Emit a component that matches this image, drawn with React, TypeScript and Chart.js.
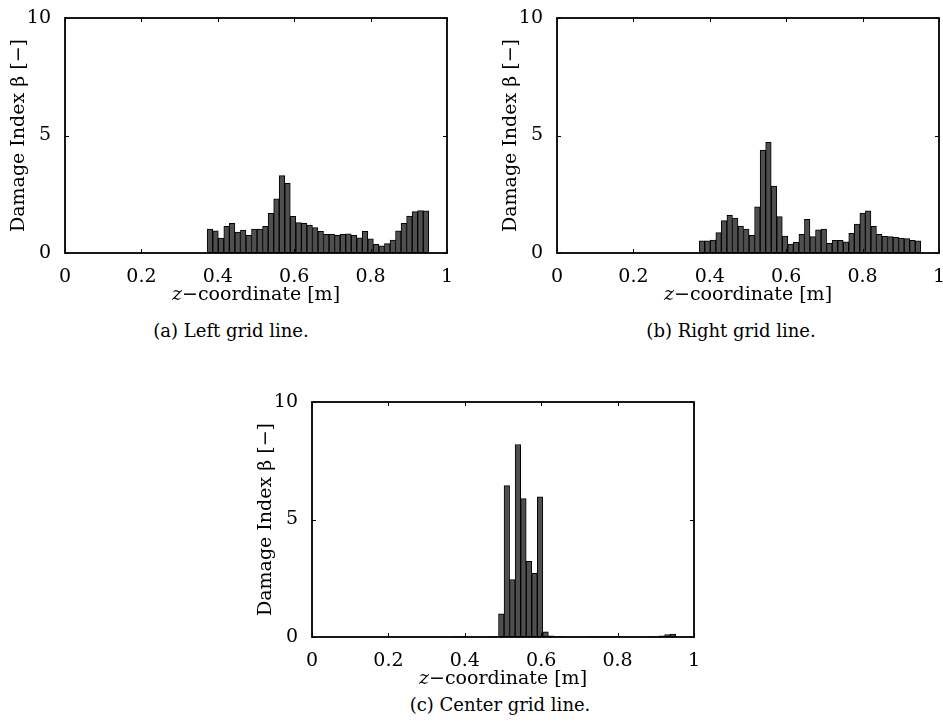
import React, { useEffect, useRef } from "react";
import { Chart, registerables } from "chart.js";

Chart.register(...registerables);

// z-coordinate of each bar centre [m]
const zCenters = [
  0.3795, 0.394, 0.4085, 0.423, 0.4375, 0.452, 0.4665, 0.481, 0.4955, 0.51,
  0.5245, 0.539, 0.5535, 0.568, 0.5825, 0.597, 0.6115, 0.626, 0.6405, 0.655,
  0.6695, 0.684, 0.6985, 0.713, 0.7275, 0.742, 0.7565, 0.771, 0.7855, 0.8,
  0.8145, 0.829, 0.8435, 0.858, 0.8725, 0.887, 0.9015, 0.916, 0.9305, 0.945,
];

// Damage index beta – left grid line
const betaLeft = [
  1.02, 0.94, 0.64, 1.13, 1.26, 0.89, 0.98, 0.75, 1.02, 1.02,
  1.13, 1.69, 2.31, 3.29, 2.96, 1.56, 1.29, 1.26, 1.19, 1.08,
  0.92, 0.79, 0.79, 0.75, 0.79, 0.82, 0.75, 0.65, 0.92, 0.6,
  0.37, 0.31, 0.4, 0.55, 0.94, 1.26, 1.57, 1.76, 1.8, 1.79,
];

// Damage index beta – right grid line
const betaRight = [
  0.52, 0.52, 0.55, 0.87, 1.38, 1.6, 1.49, 1.15, 1.02, 0.75,
  1.97, 4.38, 4.71, 2.85, 1.55, 0.72, 0.38, 0.45, 0.79, 1.43,
  0.7, 0.99, 1.02, 0.41, 0.54, 0.54, 0.48, 0.84, 1.23, 1.7,
  1.79, 1.13, 0.79, 0.71, 0.7, 0.67, 0.64, 0.61, 0.54, 0.52,
];

// Damage index beta – center grid line
const betaCenter = [
  0.02, 0.02, 0, 0, 0, 0, 0.02, 0.02, 0.99, 6.44,
  2.44, 8.19, 5.89, 3.22, 2.71, 5.96, 0.22, 0.05, 0.02, 0.02,
  0, 0, 0, 0, 0.02, 0.02, 0.02, 0.02, 0.02, 0.02,
  0, 0, 0, 0, 0, 0.02, 0.02, 0.05, 0.1, 0.12,
];

const xTicks = [0, 0.2, 0.4, 0.6, 0.8, 1];
const yTicks = [0, 5, 10];
const captions = ["(a)  Left grid line.", "(b)  Right grid line.", "(c)  Center grid line."];
const xTitleVar = "z";
const xTitleRest = "\u2212coordinate [m]";
const yTitle = "Damage Index \u03b2 [\u2212]";

const FONT = "'DejaVu Serif', serif";
const FS = 19;

const fmt = (v: number) => String(Number(Number(v).toFixed(1)));

const framePlugin = {
  id: "frame",
  afterDatasetsDraw(chart: any) {
    const { ctx, chartArea: a, scales } = chart;
    ctx.save();
    ctx.strokeStyle = "#000";
    ctx.lineWidth = 1;
    const tl = 4;
    ctx.beginPath();
    xTicks.forEach((v) => {
      const px = Math.round(scales.x.getPixelForValue(v)) + 0.5;
      ctx.moveTo(px, a.bottom);
      ctx.lineTo(px, a.bottom - tl);
      ctx.moveTo(px, a.top);
      ctx.lineTo(px, a.top + tl);
    });
    yTicks.forEach((v) => {
      const py = Math.round(scales.y.getPixelForValue(v)) + 0.5;
      ctx.moveTo(a.left, py);
      ctx.lineTo(a.left + tl, py);
      ctx.moveTo(a.right, py);
      ctx.lineTo(a.right - tl, py);
    });
    ctx.stroke();
    ctx.lineWidth = 1.8;
    ctx.strokeRect(a.left, a.top, a.right - a.left, a.bottom - a.top);

    // x-axis title with italic variable name
    const italic = `italic ${FS}px ${FONT}`;
    const normal = `${FS}px ${FONT}`;
    ctx.font = italic;
    const w1 = ctx.measureText(xTitleVar).width;
    ctx.font = normal;
    const w2 = ctx.measureText(xTitleRest).width;
    const cx = (a.left + a.right) / 2;
    const x0 = cx - (w1 + w2) / 2;
    const ty = a.bottom + 42;
    ctx.fillStyle = "#000";
    ctx.textBaseline = "middle";
    ctx.textAlign = "left";
    ctx.font = italic;
    ctx.fillText(xTitleVar, x0, ty);
    ctx.font = normal;
    ctx.fillText(xTitleRest, x0 + w1, ty);
    ctx.restore();
  },
};

type PanelProps = {
  values: number[];
  left: number;
  top: number;
};

function Panel({ values, left, top }: PanelProps) {
  const ref = useRef<HTMLCanvasElement>(null);
  useEffect(() => {
    if (!ref.current) return;
    const chart = new Chart(ref.current, {
      type: "bar",
      data: {
        datasets: [
          {
            data: zCenters.map((z, i) => ({ x: z, y: values[i] })),
            backgroundColor: "#4f4f4f",
            borderColor: "#000",
            borderWidth: 1,
            borderSkipped: false,
            barPercentage: 1,
            categoryPercentage: 1,
          },
        ],
      },
      options: {
        responsive: false,
        animation: false,
        devicePixelRatio: 1,
        layout: { padding: { top: 18, right: 13, left: 0, bottom: 0 } },
        plugins: { legend: { display: false }, tooltip: { enabled: false } },
        scales: {
          x: {
            type: "linear",
            min: 0,
            max: 1,
            offset: false,
            grid: { display: false, offset: false },
            border: { display: false },
            ticks: {
              stepSize: 0.2,
              maxRotation: 0,
              autoSkip: false,
              padding: 5,
              color: "#000",
              font: { family: FONT, size: FS },
              callback: (v: any) => fmt(v),
            },
            title: { display: false },
            afterFit: (s: any) => {
              s.height = 57;
            },
          },
          y: {
            type: "linear",
            min: 0,
            max: 10,
            grid: { display: false },
            border: { display: false },
            ticks: {
              stepSize: 5,
              padding: 6,
              color: "#000",
              font: { family: FONT, size: FS },
              callback: (v: any) => fmt(v),
            },
            title: {
              display: true,
              text: yTitle,
              color: "#000",
              font: { family: FONT, size: FS },
              padding: { top: 8, bottom: 0 },
            },
            afterFit: (s: any) => {
              s.width = 65;
            },
          },
        },
      },
      plugins: [framePlugin],
    } as any);
    return () => chart.destroy();
  }, [values]);
  return (
    <canvas
      ref={ref}
      width={460}
      height={310}
      style={{ position: "absolute", left, top }}
    />
  );
}

const capStyle: React.CSSProperties = {
  position: "absolute",
  width: 300,
  textAlign: "center",
  fontFamily: FONT,
  fontSize: 18,
  lineHeight: "20px",
  color: "#000",
  whiteSpace: "nowrap",
};

export default function App() {
  return (
    <div
      style={{
        position: "absolute",
        left: 0,
        top: 0,
        width: 943,
        height: 724,
        overflow: "hidden",
        background: "#fff",
      }}
    >
      <Panel values={betaLeft} left={0} top={0} />
      <Panel values={betaRight} left={492} top={0} />
      <Panel values={betaCenter} left={247} top={384} />
      <div style={{ ...capStyle, left: 81, top: 321 }}>{captions[0]}</div>
      <div style={{ ...capStyle, left: 581, top: 321 }}>{captions[1]}</div>
      <div style={{ ...capStyle, left: 350, top: 695 }}>{captions[2]}</div>
    </div>
  );
}
